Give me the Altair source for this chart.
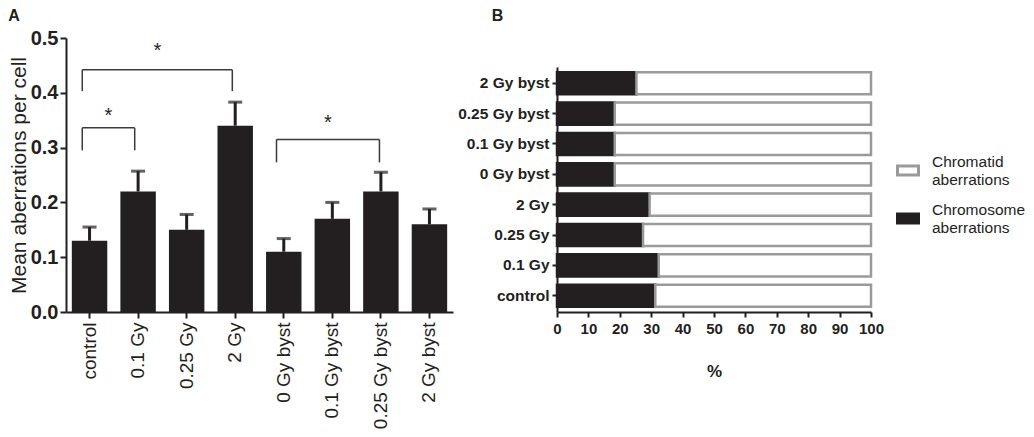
import altair as alt
import pandas as pd

# ---- Panel A data ----
cats_a = ["control", "0.1 Gy", "0.25 Gy", "2 Gy", "0 Gy byst", "0.1 Gy byst", "0.25 Gy byst", "2 Gy byst"]
means = [0.13, 0.22, 0.15, 0.34, 0.11, 0.17, 0.22, 0.16]
sems = [0.025, 0.037, 0.028, 0.043, 0.024, 0.030, 0.035, 0.028]

# significance brackets (x in category-index units, y in data units)
br_x1 = [-0.15, -0.15, 3.85]
br_x2 = [0.93, 2.94, 5.97]
br_top = [0.336, 0.442, 0.315]
br_leg = [0.295, 0.403, 0.273]
star_y = [0.347, 0.466, 0.334]
br_lab = ["*", "*", "*"]

# ---- Panel B data ----
cats_b = ["2 Gy byst", "0.25 Gy byst", "0.1 Gy byst", "0 Gy byst", "2 Gy", "0.25 Gy", "0.1 Gy", "control"]
chromosome = [25.3, 18.4, 18.4, 18.4, 29.5, 27.4, 32.4, 31.3]
chromatid = [74.7, 81.6, 81.6, 81.6, 70.5, 72.6, 67.6, 68.7]

INK = "#231f20"
FONT = "Liberation Sans"

df_a = pd.DataFrame({"cat": cats_a, "mean": means, "sem": sems})
df_a["top"] = df_a["mean"] + df_a["sem"]

df_br = pd.DataFrame({"x1": br_x1, "x2": br_x2, "top": br_top, "leg": br_leg,
                      "sy": star_y, "lab": br_lab})
df_br["mid"] = (df_br["x1"] + df_br["x2"]) / 2

yscale = alt.Scale(domain=[0, 0.5], nice=False)
xband = alt.X("cat:N", sort=cats_a, title=None,
              scale=alt.Scale(paddingInner=0.27, paddingOuter=0.12),
              axis=alt.Axis(labelAngle=-90, labelFontSize=19, labelColor=INK, labelFont=FONT,
                            domainColor=INK, domainWidth=2, tickColor=INK, tickWidth=2,
                            tickSize=6, labelPadding=4))

bars = alt.Chart(df_a).mark_bar(color=INK).encode(
    x=xband,
    y=alt.Y("mean:Q", scale=yscale, title="Mean aberrations per cell",
            axis=alt.Axis(values=[0, 0.1, 0.2, 0.3, 0.4, 0.5], format=".1f",
                          labelFontSize=20, labelFontWeight="bold", labelColor=INK, labelFont=FONT,
                          labelPadding=2,
                          titleFontSize=21, titleFontWeight="normal", titleColor=INK, titleFont=FONT,
                          titlePadding=1, domainColor=INK, domainWidth=2, tickColor=INK,
                          tickWidth=2, tickSize=6, grid=False)),
)
err = alt.Chart(df_a).mark_rule(color=INK, strokeWidth=3).encode(
    x=alt.X("cat:N", sort=cats_a), y=alt.Y("mean:Q", scale=yscale), y2="top:Q")
cap = alt.Chart(df_a).mark_tick(color=INK, thickness=3, size=14).encode(
    x=alt.X("cat:N", sort=cats_a), y=alt.Y("top:Q", scale=yscale))

xlin = alt.Scale(domain=[-0.485, 7.485], nice=False, zero=False)
br_base = alt.Chart(df_br)
hline = br_base.mark_rule(color="#3a3a3a", strokeWidth=1.5).encode(
    x=alt.X("x1:Q", scale=xlin, axis=None), x2="x2:Q", y=alt.Y("top:Q", scale=yscale))
lleg = br_base.mark_rule(color="#3a3a3a", strokeWidth=1.5).encode(
    x=alt.X("x1:Q", scale=xlin, axis=None), y=alt.Y("leg:Q", scale=yscale), y2="top:Q")
rleg = br_base.mark_rule(color="#3a3a3a", strokeWidth=1.5).encode(
    x=alt.X("x2:Q", scale=xlin, axis=None), y=alt.Y("leg:Q", scale=yscale), y2="top:Q")
stars = br_base.mark_text(fontSize=20, font=FONT, color=INK, baseline="alphabetic").encode(
    x=alt.X("mid:Q", scale=xlin, axis=None),
    y=alt.Y("sy:Q", scale=yscale),
    text="lab:N")

annot = alt.layer(hline, lleg, rleg, stars)
panel_a = alt.layer(alt.layer(bars, err, cap), annot).resolve_scale(x="independent").properties(
    width=387, height=274,
    title=alt.TitleParams("A", anchor="start", fontSize=16, fontWeight="bold", font=FONT,
                          color=INK, offset=4))

# ---- Panel B ----
rows = []
for c, v1, v2 in zip(cats_b, chromosome, chromatid):
    rows.append({"cat": c, "type": "Chromosome aberrations", "pct": v1, "ord": 0})
    rows.append({"cat": c, "type": "Chromatid aberrations", "pct": v2, "ord": 1})
df_b = pd.DataFrame(rows)

types = ["Chromatid aberrations", "Chromosome aberrations"]
rect_path = "M-1,0.38H1V1.24H-1Z"
label_expr = ("datum.label == 'Chromatid aberrations' ? ['Chromatid', 'aberrations'] "
              ": ['Chromosome', ' aberrations']")
leg = dict(orient="none", legendX=830, legendY=112, symbolType=rect_path,
           symbolSize=441, symbolStrokeWidth=3, labelFontSize=15.5, labelFont=FONT,
           labelColor=INK, labelLimit=300, rowPadding=10, labelOffset=12,
           labelExpr=label_expr)
panel_b = alt.Chart(df_b).mark_bar(strokeWidth=2.5).encode(
    y=alt.Y("cat:N", sort=cats_b, title=None,
            scale=alt.Scale(paddingInner=0.27, paddingOuter=0.17, range=[29, 274]),
            axis=alt.Axis(labelFontSize=15.5, labelFontWeight="bold", labelColor=INK, labelFont=FONT,
                          domainColor=INK, domainWidth=2, tickColor=INK, tickWidth=2, tickSize=5,
                          labelPadding=3)),
    x=alt.X("pct:Q", stack="zero", title="%",
            scale=alt.Scale(domain=[0, 100], nice=False),
            axis=alt.Axis(values=list(range(0, 101, 10)), labelFontSize=15, labelFontWeight="bold",
                          labelColor=INK, labelFont=FONT, labelOverlap=False, labelFlush=False,
                          labelPadding=4,
                          titleFontSize=17, titleFontWeight="bold",
                          titleColor=INK, titleFont=FONT, titlePadding=27, domainColor=INK,
                          domainWidth=2, tickColor=INK, tickWidth=2, tickSize=5, grid=False)),
    fill=alt.Fill("type:N", scale=alt.Scale(domain=types, range=["#ffffff", INK]), title=None,
                  legend=alt.Legend(**leg)),
    stroke=alt.Stroke("type:N", scale=alt.Scale(domain=types, range=["#9a9a9a", INK]), title=None,
                      legend=alt.Legend(**leg)),
    order=alt.Order("ord:Q"),
).properties(
    width=314, height=274,
    title=alt.TitleParams("B", anchor="start", fontSize=16, fontWeight="bold", font=FONT,
                          color=INK, offset=14, dx=34))

chart = alt.hconcat(panel_a, panel_b, spacing=4).properties(padding=0).configure_view(stroke=None)

chart.save("out.html", embed_options={"renderer": "svg", "actions": False})
